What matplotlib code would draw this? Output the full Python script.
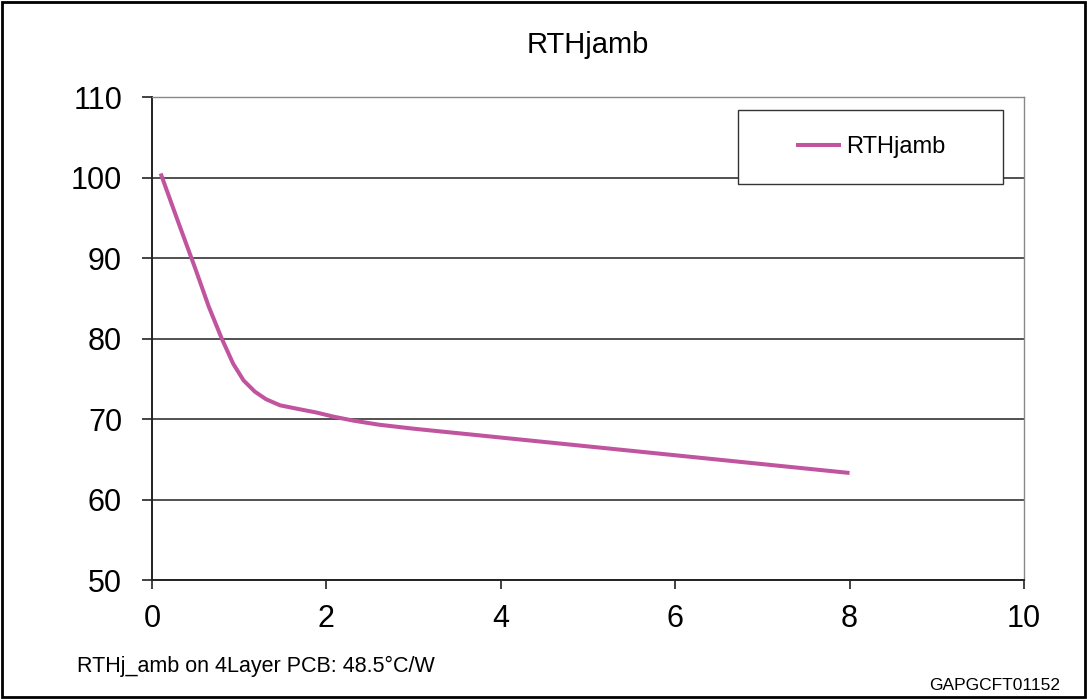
import matplotlib
matplotlib.use("Agg")
import matplotlib.pyplot as plt
from matplotlib.patches import Rectangle

# values
power_w = [0.1, 0.3, 0.5, 0.65, 0.8, 0.93, 1.05, 1.18, 1.31, 1.47, 1.7, 1.89, 2.08, 2.31,
           2.6, 3.0, 4.0, 5.0, 6.0, 7.0, 8.0]
rth = [100.5, 94.5, 88.6, 84.0, 80.0, 76.9, 74.8, 73.4, 72.45, 71.7, 71.2, 70.8, 70.3, 69.8,
       69.3, 68.8, 67.7, 66.6, 65.5, 64.4, 63.3]
x_ticks = [0, 2, 4, 6, 8, 10]
y_ticks = [50, 60, 70, 80, 90, 100, 110]

plt.rcParams['font.family'] = ['Liberation Sans', 'DejaVu Sans']

fig = plt.figure(figsize=(10.87, 6.99), dpi=100)
ax = fig.add_axes([0.1398, 0.1702, 0.8022, 0.691])

line, = ax.plot(power_w, rth, color="#C0549F", lw=2.9, label="RTHjamb", solid_capstyle="butt")

ax.set_xlim(0, 10)
ax.set_ylim(50, 110)
ax.set_xticks(x_ticks)
ax.set_yticks(y_ticks)
ax.tick_params(labelsize=22, width=1.2, direction="out", color="#222222")
ax.tick_params(axis="x", length=6.5, pad=11)
ax.tick_params(axis="y", length=7.5, pad=14)
ax.grid(axis="y", color="#333333", lw=1.2)
ax.set_axisbelow(True)
for side in ["top", "right"]:
    ax.spines[side].set_color("#888888")
    ax.spines[side].set_linewidth(1.0)
for side in ["left", "bottom"]:
    ax.spines[side].set_color("#222222")
    ax.spines[side].set_linewidth(1.4)

ax.set_title("RTHjamb", fontsize=21, pad=32)

# legend frame drawn separately so it can be wide like the original
ax.add_patch(Rectangle((0.672, 0.820), 0.304, 0.153, transform=ax.transAxes,
                       facecolor="white", edgecolor="#333333", lw=1.0, zorder=4))
leg = ax.legend(loc="center", bbox_to_anchor=(0.824, 0.8965), fontsize=17,
                frameon=False, handlelength=1.9, handletextpad=0.2, borderaxespad=0)
leg.set_zorder(5)

fig.text(77 / 1087, 1 - 666 / 699, "RTHj_amb on 4Layer PCB: 48.5\u00b0C/W",
         fontsize=15.5, va="center")
fig.text(1060 / 1087, 1 - 685 / 699, "GAPGCFT01152",
         fontsize=12.5, va="center", ha="right")

fig.patches.append(Rectangle((0.002, 0.003), 0.996, 0.994, transform=fig.transFigure,
                             fill=False, edgecolor="black", lw=2))

fig.savefig("out.png", dpi=100)
